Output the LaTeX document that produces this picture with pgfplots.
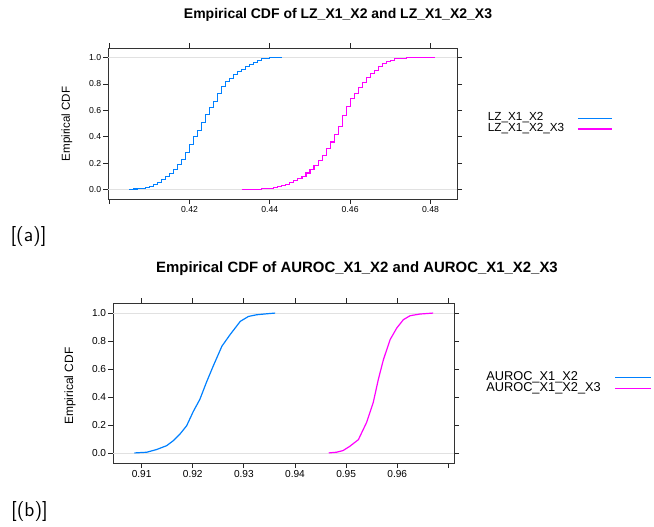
\documentclass[border=0pt]{standalone}
\usepackage{fontspec}
\setmainfont{Liberation Sans}
\usepackage{pgfplots}
\pgfplotsset{compat=1.18}
\definecolor{ltblue}{RGB}{0,128,255}
\definecolor{ltmag}{RGB}{255,0,255}
\definecolor{refgray}{RGB}{225,225,225}

\pgfplotsset{
  latt/.style={
    scale only axis,
    axis line style={black!80, line width=0.6pt},
    tick align=outside, tick pos=both,
    xticklabel pos=lower, yticklabel pos=left,
    major tick length=3.75pt,
    every tick/.style={black!85, line width=0.6pt},
    yticklabel style={inner sep=1.2pt},
    xticklabel style={inner sep=1.5pt},
    ytick={0,0.2,0.4,0.6,0.8,1},
    yticklabels={0.0,0.2,0.4,0.6,0.8,1.0},
    ymin=-0.072, ymax=1.072,
    legend plot pos=right,
    legend cell align=left,
    legend style={draw=none, fill=none, inner sep=0pt,
      nodes={inner sep=0pt, text height=6.3pt, text depth=1.9pt},
      row sep=0pt},
  },
}

\begin{document}
\begin{tikzpicture}
\useasboundingbox (0,0) rectangle (654*0.75pt,-526*0.75pt);

% ---------- panel (a)
\begin{axis}[latt,
  at={(108*0.75pt,-199*0.75pt)}, anchor=south west,
  width=349*0.75pt, height=151*0.75pt,
  xmin=0.3997, xmax=0.4866,
  xtick={0.40,0.42,0.44,0.46,0.48},
  xticklabels={,0.42,0.44,0.46,0.48},
  tick label style={font=\fontsize{6.5}{7.5}\selectfont},
  legend style={at={(1,0.5)}, anchor=west, xshift=23pt, column sep=9.75pt,
    font=\fontsize{8.8}{8.8}\selectfont},
  legend image code/.code={\draw[#1] (0pt,0pt) -- (26pt,0pt);},
]
\addplot[refgray, line width=0.6pt, forget plot] coordinates {(0.3997,0) (0.4866,0)};
\addplot[refgray, line width=0.6pt, forget plot] coordinates {(0.3997,1) (0.4866,1)};
\addplot[ltblue, line width=0.8pt, const plot] coordinates {
(0.405,0.002) (0.406,0.004) (0.407,0.006) (0.408,0.010) (0.409,0.015)
(0.410,0.025) (0.411,0.035) (0.412,0.050) (0.413,0.073) (0.414,0.100)
(0.415,0.120) (0.416,0.150) (0.417,0.190) (0.418,0.230) (0.419,0.280)
(0.420,0.340) (0.421,0.400) (0.422,0.450) (0.423,0.510) (0.424,0.570)
(0.425,0.620) (0.426,0.670) (0.427,0.730) (0.428,0.780) (0.429,0.815)
(0.430,0.840) (0.431,0.870) (0.432,0.895) (0.433,0.912) (0.434,0.930)
(0.435,0.950) (0.436,0.965) (0.437,0.980) (0.438,0.990) (0.439,0.995)
(0.440,0.998) (0.441,1.000) (0.443,1.000)};
\addlegendentry{LZ\_X1\_X2}
\addplot[ltmag, line width=0.8pt, const plot] coordinates {
(0.433,0.001) (0.436,0.003) (0.438,0.006) (0.440,0.010) (0.441,0.015)
(0.442,0.020) (0.443,0.028) (0.444,0.038) (0.445,0.050) (0.446,0.065)
(0.447,0.080) (0.448,0.100) (0.449,0.125) (0.450,0.150) (0.451,0.185)
(0.452,0.220) (0.453,0.260) (0.454,0.310) (0.455,0.360) (0.456,0.420)
(0.457,0.480) (0.458,0.560) (0.459,0.630) (0.460,0.690) (0.461,0.730)
(0.462,0.770) (0.463,0.810) (0.464,0.850) (0.465,0.880) (0.466,0.905)
(0.467,0.935) (0.468,0.955) (0.469,0.970) (0.470,0.980) (0.471,0.990)
(0.472,0.995) (0.474,0.998) (0.475,1.000) (0.481,1.000)};
\addlegendentry{LZ\_X1\_X2\_X3}
\end{axis}

% ---------- panel (b)
\begin{axis}[latt,
  at={(113*0.75pt,-463*0.75pt)}, anchor=south west,
  width=341*0.75pt, height=160*0.75pt,
  xmin=0.9044, xmax=0.9711,
  xtick={0.91,0.92,0.93,0.94,0.95,0.96,0.97},
  xticklabels={0.91,0.92,0.93,0.94,0.95,0.96,},
  tick label style={font=\fontsize{7.6}{8.6}\selectfont},
  legend style={at={(1,0.5)}, anchor=west, xshift=24pt, column sep=10.5pt,
    font=\fontsize{9.6}{9.6}\selectfont},
  legend image code/.code={\draw[#1] (0pt,0pt) -- (27pt,0pt);},
]
\addplot[refgray, line width=0.6pt, forget plot] coordinates {(0.9044,0) (0.9711,0)};
\addplot[refgray, line width=0.6pt, forget plot] coordinates {(0.9044,1) (0.9711,1)};
\addplot[ltblue, line width=0.9pt] coordinates {
(0.9086,0.000) (0.9110,0.005) (0.9129,0.024) (0.9149,0.052) (0.9162,0.088)
(0.9175,0.135) (0.9188,0.194) (0.9201,0.296) (0.9214,0.384) (0.9227,0.507)
(0.9240,0.621) (0.9257,0.763) (0.9273,0.846) (0.9293,0.941) (0.9309,0.976)
(0.9325,0.988) (0.9345,0.995) (0.9361,1.000)};
\addlegendentry{AUROC\_X1\_X2}
\addplot[ltmag, line width=0.9pt] coordinates {
(0.9466,0.000) (0.9481,0.005) (0.9494,0.017) (0.9507,0.047) (0.9524,0.095)
(0.9540,0.218) (0.9553,0.360) (0.9563,0.526) (0.9573,0.668) (0.9586,0.810)
(0.9599,0.893) (0.9612,0.953) (0.9625,0.981) (0.9644,0.993) (0.9670,1.000)};
\addlegendentry{AUROC\_X1\_X2\_X3}
\end{axis}

% ---------- titles and labels
\node[font=\bfseries\fontsize{10.5}{12}\selectfont] at (338*0.75pt,-15*0.75pt)
  {Empirical CDF of LZ\_X1\_X2 and LZ\_X1\_X2\_X3};
\node[font=\bfseries\fontsize{11.2}{13}\selectfont] at (357*0.75pt,-268.5*0.75pt)
  {Empirical CDF of AUROC\_X1\_X2 and AUROC\_X1\_X2\_X3};
\node[rotate=90, font=\fontsize{8.7}{10}\selectfont] at (67*0.75pt,-124*0.75pt) {Empirical CDF};
\node[rotate=90, font=\fontsize{9}{10}\selectfont] at (70*0.75pt,-386*0.75pt) {Empirical CDF};
\node[font=\sffamily\fontsize{15}{17}\selectfont] at (28.5*0.75pt,-237*0.75pt) {[(a)]};
\node[font=\sffamily\fontsize{15}{17}\selectfont] at (29.5*0.75pt,-512*0.75pt) {[(b)]};
\end{tikzpicture}
\end{document}
